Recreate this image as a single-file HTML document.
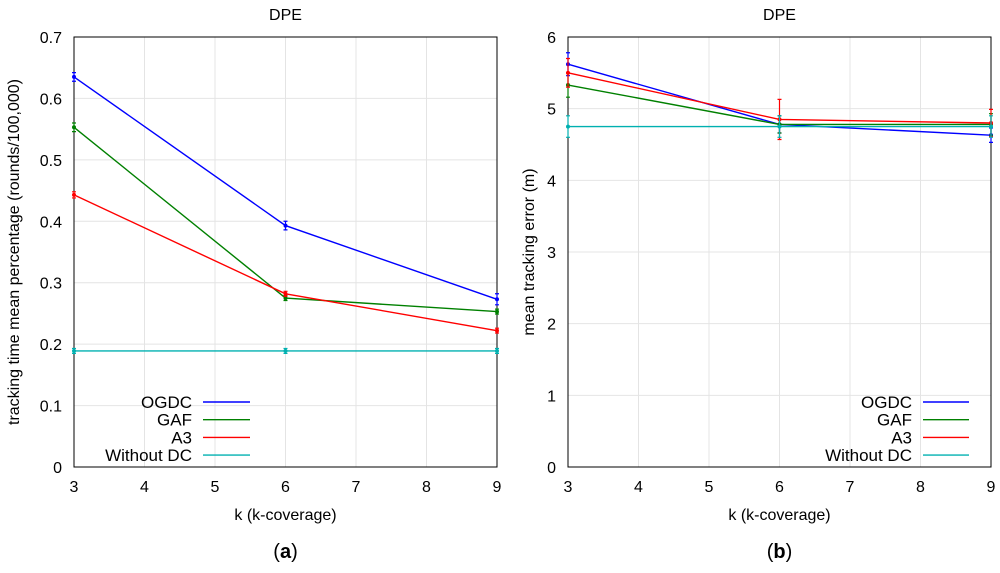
<!DOCTYPE html>
<html><head><meta charset="utf-8"><style>
body{margin:0;background:#fff}
svg text{font-family:"Liberation Sans",sans-serif;fill:#000}
</style></head><body>
<svg id="c" width="1000" height="568" xmlns="http://www.w3.org/2000/svg"></svg>
<script>
const ks=[3,6,9];
const seriesNames=["OGDC","GAF","A3","Without DC"];
const colors=["#0000ff","#008000","#ff0000","#00b0b0"];
const leftVals=[[0.635,0.393,0.273],[0.553,0.275,0.253],[0.443,0.282,0.222],[0.189,0.189,0.189]];
const leftErr=[[0.007,0.007,0.009],[0.007,0.004,0.004],[0.005,0.004,0.004],[0.004,0.004,0.004]];
const rightVals=[[5.62,4.78,4.63],[5.33,4.78,4.78],[5.5,4.85,4.8],[4.75,4.75,4.75]];
const rightErr=[[0.16,0.12,0.1],[0.17,0.12,0.15],[0.2,0.28,0.19],[0.15,0.15,0.15]];
const leftTicks=[0,0.1,0.2,0.3,0.4,0.5,0.6,0.7];
const rightTicks=[0,1,2,3,4,5,6];
const xTicks=[3,4,5,6,7,8,9];
const svg=document.getElementById('c');
const NS="http://www.w3.org/2000/svg";
function mk(t,a,p){const e=document.createElementNS(NS,t);for(const k in a)e.setAttribute(k,a[k]);(p||svg).appendChild(e);return e;}
function panel(id,x0,x1,yMax,ticks,vals,errs,title,ylabel,ylabX,legX,legW,letter){
  const y0=467,y1=37;
  const g=mk('g',{});
  
  
  const X=v=>x0+(v-3)/6*(x1-x0);
  const Y=v=>y0-v/yMax*(y0-y1);
  xTicks.forEach(t=>{const l=mk('line',{x1:X(t),x2:X(t),y1:y0,y2:y1,stroke:'#e4e4e4'},g);
    const tx=mk('text',{x:X(t),y:y0+25,'font-size':16,'text-anchor':'middle'},g);tx.textContent=t;});
  ticks.forEach(t=>{const l=mk('line',{x1:x0,x2:x1,y1:Y(t),y2:Y(t),stroke:'#e4e4e4'},g);
    const tx=mk('text',{x:x0-12,y:Y(t)+6,'font-size':16,'text-anchor':'end'},g);tx.textContent=t;});
  const fr=mk('rect',{x:x0,y:y1,width:x1-x0,height:y0-y1,fill:'none',stroke:'#000','stroke-width':1},g);
  
  vals.forEach((s,i)=>{
    const p=mk('polyline',{points:s.map((v,j)=>X(ks[j])+','+Y(v)).join(' '),fill:'none',stroke:colors[i],'stroke-width':1.4},g);
    
    
    s.forEach((v,j)=>{const e=errs[i][j],x=X(ks[j]);
      const eb=mk('path',{d:`M${x},${Y(v-e)}V${Y(v+e)}M${x-2},${Y(v-e)}h4M${x-2},${Y(v+e)}h4`,stroke:colors[i],'stroke-width':1.2,fill:'none'},g);
      
      const pt=mk('circle',{cx:x,cy:Y(v),r:2,fill:colors[i]},g);
      });
  });
  seriesNames.forEach((n,i)=>{const y=408+i*17.7;
    const t=mk('text',{x:legX,y:y,'font-size':17,'text-anchor':'end'},g);t.textContent=n;
    const l=mk('line',{x1:legX+11,x2:legX+11+legW,y1:y-6,y2:y-6,stroke:colors[i],'stroke-width':1.4},g);});
  const tt=mk('text',{x:(x0+x1)/2,y:20,'font-size':16,'text-anchor':'middle'},g);tt.textContent=title;
  const xl=mk('text',{x:(x0+x1)/2,y:520,'font-size':16,'text-anchor':'middle'},g);xl.textContent='k (k-coverage)';
  const yl=mk('text',{x:0,y:0,'font-size':16,'text-anchor':'middle',transform:`translate(${ylabX},${(y0+y1)/2}) rotate(-90)`},g);yl.textContent=ylabel;
  const lt=mk('text',{x:(x0+x1)/2,y:558,'font-size':20,'text-anchor':'middle','font-family':'Liberation Serif'},g);
  lt.innerHTML='(<tspan font-weight="bold">'+letter+'</tspan>)';
}
panel('left-chart',74,497,0.7,leftTicks,leftVals,leftErr,'DPE','tracking time mean percentage (rounds/100,000)',19,192,47,'a');
panel('right-chart',568,991,6,rightTicks,rightVals,rightErr,'DPE','mean tracking error (m)',534,912,46,'b');
</script>
</body></html>
